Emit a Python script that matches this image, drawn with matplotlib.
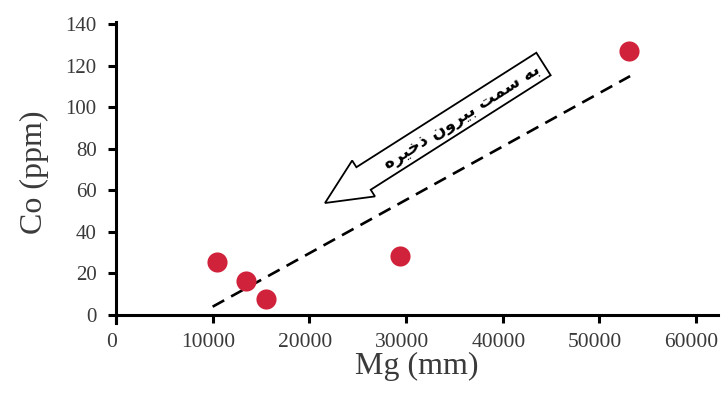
import matplotlib
matplotlib.use("Agg")
import matplotlib.pyplot as plt
import matplotlib.transforms as mtransforms
from matplotlib.patches import FancyArrow
import numpy as np

# داده‌ها (خوانده شده از تصویر)
mg = np.array([10500, 13500, 15500, 29400, 53100])
co = np.array([25.5, 16.4, 7.7, 28.3, 127.0])
xticks = [0, 10000, 20000, 30000, 40000, 50000, 60000]
yticks = [0, 20, 40, 60, 80, 100, 120, 140]
line_x = np.array([10000, 53200])

# متن فارسی به صورت شکل‌های نمایشی، ترتیب دیداری
label_text = ("\uFEE9\uFEAE\uFEF4\uFEA7\uFEAB \uFEE5\uFEED\uFEAE\uFEF4\uFE91 "
              "\uFE96\uFEE4\uFEB3 \uFEEA\uFE91")

W, H = 722, 401
fig = plt.figure(figsize=(W / 100, H / 100), dpi=100)
ax = fig.add_axes([116 / W, 1 - 323.3 / H, (718 - 116) / W, (323.3 - 22) / H])

ax.scatter(mg, co, s=210, color="#D0223A", zorder=3, linewidths=0)

# خط روند (برازش کمترین مربعات)
k, b = np.polyfit(mg, co, 1)
ax.plot(line_x, k * line_x + b, color="black", lw=1.9, linestyle=(0, (5, 3)), zorder=2)

ax.set_xlim(0, 62300)
ax.set_ylim(-4, 141)
ax.set_xticks(xticks)
ax.set_yticks(yticks)

ax.spines["top"].set_visible(False)
ax.spines["right"].set_visible(False)
ax.spines["bottom"].set_position(("data", 0))
for s in ("left", "bottom"):
    ax.spines[s].set_linewidth(2.2)
ax.tick_params(axis="both", width=2.2, length=6, color="black", labelcolor="#3a3a3a")
ax.tick_params(axis="x", pad=7, labelsize=15.5)
ax.tick_params(axis="y", pad=8, labelsize=15)
for t in ax.get_xticklabels() + ax.get_yticklabels():
    t.set_fontfamily("Liberation Serif")
# برچسب‌های محور x کمی به چپ
shift = mtransforms.ScaledTranslation(-3 / 72, 0, fig.dpi_scale_trans)
for t in ax.get_xticklabels():
    t.set_transform(t.get_transform() + shift)

ax.set_xlabel("Mg (mm)", fontsize=23, family="Liberation Serif", color="#3a3a3a", labelpad=0)
ax.set_ylabel("Co (ppm)", fontsize=23, family="Liberation Serif", color="#3a3a3a", labelpad=12)

# پیکان توخالی (مختصات پیکسلی شکل)
px = mtransforms.Affine2D().scale(1 / W, -1 / H).translate(0, 1) + fig.transFigure
tail = np.array([543.5, 64.0])
tip = np.array([325.0, 203.0])
d = tip - tail
arrow = FancyArrow(tail[0], tail[1], d[0], d[1], width=26.7, head_width=42.5,
                   head_length=45.7, length_includes_head=True,
                   facecolor="white", edgecolor="black", linewidth=1.3,
                   transform=px, zorder=4)
fig.patches.append(arrow)

fig.text(462 / W, 1 - 117 / H, label_text, rotation=32.5, rotation_mode="anchor",
         ha="center", va="center", fontsize=12.5, fontweight="bold",
         family="DejaVu Sans", color="black", zorder=5)

fig.savefig("out.png", dpi=100)
